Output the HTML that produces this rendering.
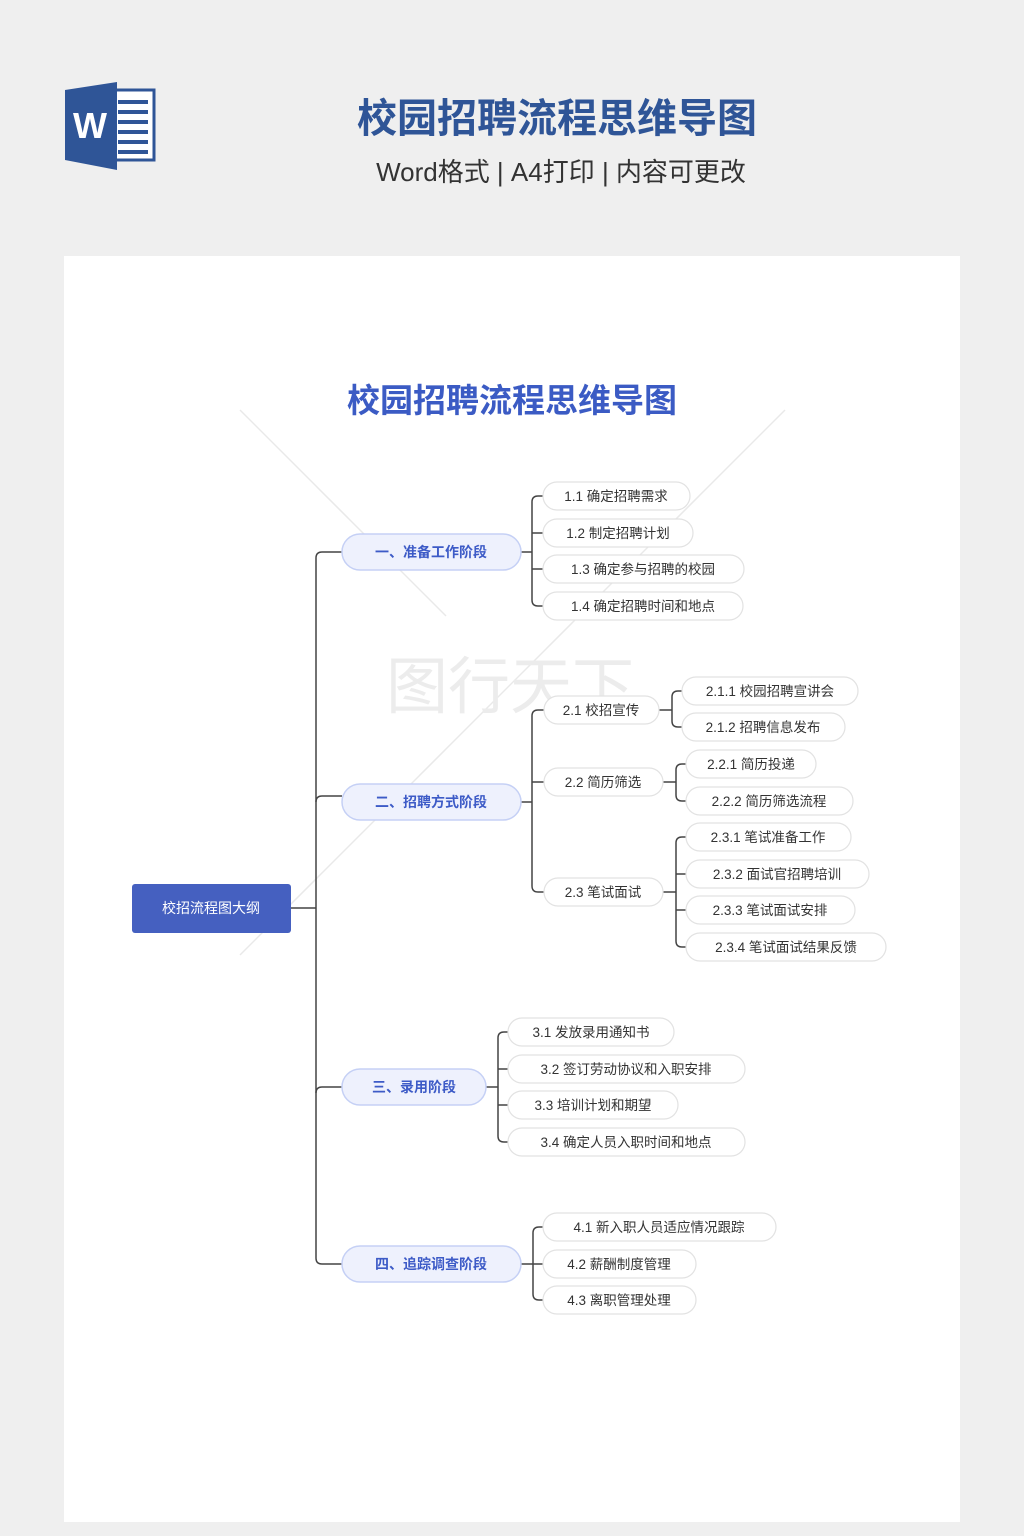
<!DOCTYPE html>
<html><head><meta charset="utf-8"><style>
html,body{margin:0;padding:0;background:#efefef;}
svg{display:block;}
text{font-family:"Liberation Sans","Noto Sans CJK SC",sans-serif;}
</style></head><body>
<svg width="1024" height="1536" viewBox="0 0 1024 1536" xmlns="http://www.w3.org/2000/svg">
<rect width="1024" height="1536" fill="#efefef"/>
<rect x="112" y="90" width="42" height="70" fill="#fff" stroke="#2f5597" stroke-width="3"/>
<g fill="#2f5597"><rect x="118" y="100" width="30" height="4"/><rect x="118" y="110" width="30" height="4"/><rect x="118" y="120" width="30" height="4"/><rect x="118" y="130" width="30" height="4"/><rect x="118" y="140" width="30" height="4"/><rect x="118" y="150" width="30" height="4"/></g>
<polygon points="65,90 117,82 117,170 65,160" fill="#2f5597"/>
<text x="90" y="138" font-size="36" font-weight="bold" fill="#fff" text-anchor="middle">W</text>
<text x="557" y="132" font-size="40" font-weight="bold" fill="#2f5597" text-anchor="middle">校园招聘流程思维导图</text>
<text x="561" y="181" font-size="26" fill="#333" text-anchor="middle">Word格式 | A4打印 | 内容可更改</text>
<rect x="64" y="256" width="896" height="1266" fill="#fff"/>
<g stroke="#e9e9e9" stroke-width="1.5"><line x1="240" y1="410" x2="446" y2="616"/><line x1="785" y1="410" x2="240" y2="955"/></g>
<text x="512" y="412" font-size="33" font-weight="bold" fill="#3b5bc4" text-anchor="middle">校园招聘流程思维导图</text>
<text x="510" y="708" font-size="62" fill="#ececec" text-anchor="middle" font-family="Noto Serif CJK SC, serif">图行天下</text>
<g fill="none" stroke="#444" stroke-width="1.5">
<path d="M291,908 H316"/>
<path d="M342,552 H322 Q316,552 316,558 V1258 Q316,1264 322,1264 H342"/>
<path d="M316,802 Q316,796 322,796 H342 M316,1093 Q316,1087 322,1087 H342"/>
<path d="M521,552 H532 M543,496 H538 Q532,496 532,502 V600 Q532,606 538,606 H543 M532,533 H543 M532,569 H543"/>
<path d="M521,802 H532 M544,710 H538 Q532,710 532,716 V886 Q532,892 538,892 H544 M532,782 H544"/>
<path d="M659,710 H672 M682,691 H678 Q672,691 672,697 V721 Q672,727 678,727 H682"/>
<path d="M663,782 H676 M686,764 H682 Q676,764 676,770 V795 Q676,801 682,801 H686"/>
<path d="M663,892 H676 M686,837 H682 Q676,837 676,843 V941 Q676,947 682,947 H686 M676,874 H686 M676,910 H686"/>
<path d="M486,1087 H498 M508,1032 H504 Q498,1032 498,1038 V1136 Q498,1142 504,1142 H508 M498,1069 H508 M498,1105 H508"/>
<path d="M521,1264 H533 M543,1227 H539 Q533,1227 533,1233 V1294 Q533,1300 539,1300 H543 M533,1264 H543"/>
</g>
<rect x="132" y="884" width="159" height="49" rx="3" fill="#4560c0"/>
<text x="211" y="913" font-size="14" fill="#fff" text-anchor="middle">校招流程图大纲</text>
<g fill="#eef1fd" stroke="#c5d0f5" stroke-width="1.5">
<rect x="342" y="534" width="179" height="36" rx="18"/>
<rect x="342" y="784" width="179" height="36" rx="18"/>
<rect x="342" y="1069" width="144" height="36" rx="18"/>
<rect x="342" y="1246" width="179" height="36" rx="18"/>
</g>
<g font-size="14" font-weight="bold" fill="#3d5bc7" text-anchor="middle">
<text x="431" y="557">一、准备工作阶段</text>
<text x="431" y="807">二、招聘方式阶段</text>
<text x="414" y="1092">三、录用阶段</text>
<text x="431" y="1269">四、追踪调查阶段</text>
</g>
<g fill="#fff" stroke="#e2e2e2" stroke-width="1.2">
<rect x="543" y="482" width="147" height="28" rx="14"/>
<rect x="543" y="519" width="150" height="28" rx="14"/>
<rect x="543" y="555" width="201" height="28" rx="14"/>
<rect x="543" y="592" width="200" height="28" rx="14"/>
<rect x="544" y="696" width="115" height="28" rx="14"/>
<rect x="544" y="768" width="119" height="28" rx="14"/>
<rect x="544" y="878" width="119" height="28" rx="14"/>
<rect x="682" y="677" width="176" height="28" rx="14"/>
<rect x="682" y="713" width="163" height="28" rx="14"/>
<rect x="686" y="750" width="130" height="28" rx="14"/>
<rect x="686" y="787" width="167" height="28" rx="14"/>
<rect x="686" y="823" width="165" height="28" rx="14"/>
<rect x="686" y="860" width="183" height="28" rx="14"/>
<rect x="686" y="896" width="169" height="28" rx="14"/>
<rect x="686" y="933" width="200" height="28" rx="14"/>
<rect x="508" y="1018" width="166" height="28" rx="14"/>
<rect x="508" y="1055" width="237" height="28" rx="14"/>
<rect x="508" y="1091" width="170" height="28" rx="14"/>
<rect x="508" y="1128" width="237" height="28" rx="14"/>
<rect x="543" y="1213" width="233" height="28" rx="14"/>
<rect x="543" y="1250" width="153" height="28" rx="14"/>
<rect x="543" y="1286" width="153" height="28" rx="14"/>
</g>
<g font-size="13.5" fill="#333" text-anchor="middle">
<text x="616" y="501">1.1 确定招聘需求</text>
<text x="618" y="538">1.2 制定招聘计划</text>
<text x="643" y="574">1.3 确定参与招聘的校园</text>
<text x="643" y="611">1.4 确定招聘时间和地点</text>
<text x="601" y="715">2.1 校招宣传</text>
<text x="603" y="787">2.2 简历筛选</text>
<text x="603" y="897">2.3 笔试面试</text>
<text x="770" y="696">2.1.1 校园招聘宣讲会</text>
<text x="763" y="732">2.1.2 招聘信息发布</text>
<text x="751" y="769">2.2.1 简历投递</text>
<text x="769" y="806">2.2.2 简历筛选流程</text>
<text x="768" y="842">2.3.1 笔试准备工作</text>
<text x="777" y="879">2.3.2 面试官招聘培训</text>
<text x="770" y="915">2.3.3 笔试面试安排</text>
<text x="786" y="952">2.3.4 笔试面试结果反馈</text>
<text x="591" y="1037">3.1 发放录用通知书</text>
<text x="626" y="1074">3.2 签订劳动协议和入职安排</text>
<text x="593" y="1110">3.3 培训计划和期望</text>
<text x="626" y="1147">3.4 确定人员入职时间和地点</text>
<text x="659" y="1232">4.1 新入职人员适应情况跟踪</text>
<text x="619" y="1269">4.2 薪酬制度管理</text>
<text x="619" y="1305">4.3 离职管理处理</text>
</g>
</svg>
</body></html>
